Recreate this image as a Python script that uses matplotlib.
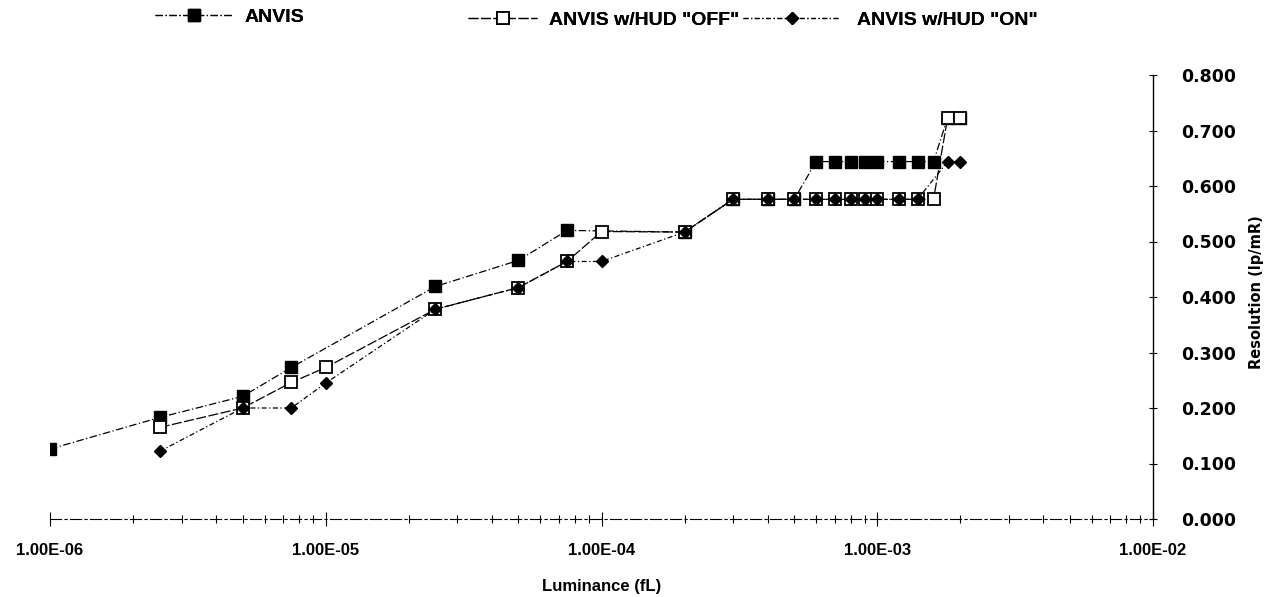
import matplotlib
matplotlib.use("Agg")
import matplotlib.pyplot as plt
from matplotlib import font_manager
from matplotlib.ticker import FixedLocator, LogLocator, NullFormatter

# Данные
anvis_x = [1e-6, 2.5e-6, 5e-6, 7.5e-6, 2.5e-5, 5e-5, 7.5e-5, 2e-4, 3e-4, 4e-4, 5e-4,
           6e-4, 7e-4, 8e-4, 9e-4, 1e-3, 1.2e-3, 1.4e-3, 1.6e-3, 1.8e-3, 2e-3]
anvis_y = [0.126, 0.183, 0.221, 0.273, 0.419, 0.466, 0.520, 0.517, 0.576, 0.576, 0.576,
           0.644, 0.644, 0.644, 0.644, 0.644, 0.644, 0.644, 0.644, 0.723, 0.723]

off_x = [2.5e-6, 5e-6, 7.5e-6, 1e-5, 2.5e-5, 5e-5, 7.5e-5, 1e-4, 2e-4, 3e-4, 4e-4, 5e-4,
         6e-4, 7e-4, 8e-4, 9e-4, 1e-3, 1.2e-3, 1.4e-3, 1.6e-3, 1.8e-3, 2e-3]
off_y = [0.165, 0.200, 0.246, 0.273, 0.378, 0.417, 0.464, 0.518, 0.517, 0.576, 0.576, 0.576,
         0.576, 0.576, 0.576, 0.576, 0.576, 0.576, 0.576, 0.576, 0.723, 0.723]

on_x = [2.5e-6, 5e-6, 7.5e-6, 1e-5, 2.5e-5, 5e-5, 7.5e-5, 1e-4, 2e-4, 3e-4, 4e-4, 5e-4,
        6e-4, 7e-4, 8e-4, 9e-4, 1e-3, 1.2e-3, 1.4e-3, 1.8e-3, 2e-3]
on_y = [0.122, 0.200, 0.200, 0.245, 0.378, 0.417, 0.464, 0.464, 0.517, 0.576, 0.576, 0.576,
        0.576, 0.576, 0.576, 0.576, 0.576, 0.576, 0.576, 0.644, 0.644]

x_ticks = [1e-6, 1e-5, 1e-4, 1e-3, 1e-2]
x_tick_labels = ["1.00E-06", "1.00E-05", "1.00E-04", "1.00E-03", "1.00E-02"]
y_ticks = [0.0, 0.1, 0.2, 0.3, 0.4, 0.5, 0.6, 0.7, 0.8]

# Шрифт: узкий, если есть
names = {f.name for f in font_manager.fontManager.ttflist}
narrow = "Liberation Sans Narrow" if "Liberation Sans Narrow" in names else "Liberation Sans"

W, H = 1268, 597
fig = plt.figure(figsize=(W / 100, H / 100), dpi=100)
ax = fig.add_axes([50 / W, 1 - 519 / H, (1153 - 50) / W, (519 - 75) / H])

ax.plot(anvis_x, anvis_y, color="black", lw=0.9, ls=(0, (6, 2, 1, 2)),
        marker="s", ms=8, mfc="black", mec="black", label="ANVIS")
ax.plot(off_x, off_y, color="black", lw=0.9, ls=(0, (8, 2)),
        marker="s", ms=8, mfc="white", mec="black", mew=1.3, label='ANVIS w/HUD "OFF"')
ax.plot(on_x, on_y, color="black", lw=0.9, ls=(0, (4, 2, 1, 2)),
        marker="D", ms=6, mfc="black", mec="black", label='ANVIS w/HUD "ON"')

ax.set_xscale("log")
ax.set_xlim(1e-6, 1e-2)
ax.set_ylim(0, 0.8)

ax.xaxis.set_major_locator(FixedLocator(x_ticks))
ax.xaxis.set_minor_locator(LogLocator(base=10, subs=range(2, 10), numticks=20))
ax.xaxis.set_minor_formatter(NullFormatter())
ax.set_xticklabels(x_tick_labels, family=narrow, fontweight="bold", fontsize=12)
ax.tick_params(axis="x", which="major", direction="inout", length=10, width=0.8, pad=12)
ax.tick_params(axis="x", which="minor", direction="inout", length=6, width=0.8)

ax.yaxis.tick_right()
ax.set_yticks(y_ticks)
ax.set_yticklabels([f"{v:.3f}" for v in y_ticks], family="DejaVu Sans",
                   fontweight="bold", fontsize=12.5)
ax.tick_params(axis="y", direction="inout", length=6, width=0.8, pad=17)

for s in ["top", "left"]:
    ax.spines[s].set_visible(False)
ax.spines["right"].set_linewidth(1.0)
ax.spines["bottom"].set_linewidth(0.8)
ax.spines["bottom"].set_linestyle((0, (10, 3, 2, 3)))

ax.set_xlabel("Luminance (fL)", family="Liberation Sans", fontweight="bold", fontsize=12)
ax.xaxis.set_label_coords(0.5, -0.135)

# подпись оси Y справа
fig.text(1256 / W, 1 - 292 / H, "Resolution (lp/mR)", rotation=90, ha="center",
         va="center", family="DejaVu Sans", fontweight="bold", fontsize=10.5)

# Легенда: три отдельных блока, как в оригинале
handles, labels = ax.get_legend_handles_labels()
prop = {"family": narrow, "weight": "bold", "size": 14}
leg_spec = [(155, 17, 4.0, 0.6), (468, 20, 3.55, 0.6), (743, 20, 5.0, 0.85)]
for h, lab, (lx, ly, hl, tp) in zip(handles, labels, leg_spec):
    leg = fig.legend([h], [lab], loc="center left", bbox_to_anchor=(lx / W, 1 - ly / H),
                     frameon=False, prop=prop, handlelength=hl, handletextpad=tp,
                     numpoints=1, borderaxespad=0, borderpad=0)
    fig.add_artist(leg)

fig.savefig("out.png", dpi=100)
